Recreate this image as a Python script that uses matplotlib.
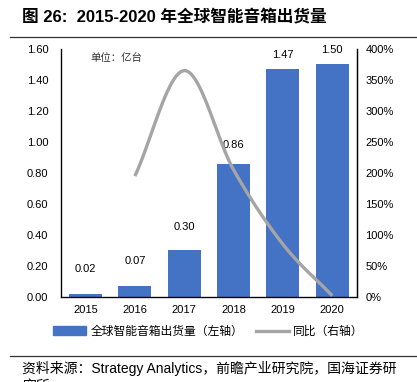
import numpy as np
import matplotlib
matplotlib.use("Agg")
import matplotlib.pyplot as plt
from matplotlib.lines import Line2D
from matplotlib.patches import Patch

plt.rcParams['font.family'] = ['Liberation Sans', 'Noto Sans CJK SC', 'DejaVu Sans']

years = ['2015', '2016', '2017', '2018', '2019', '2020']
shipments = [0.02, 0.07, 0.30, 0.86, 1.47, 1.50]   # 亿台
yoy_years = [1, 2, 3, 4, 5]                         # index into years
yoy = [195, 365, 205, 85, 2]                        # %

bar_color = '#4472C4'
line_color = '#A5A5A5'


def smooth(xs, ys, n=30):
    # Catmull-Rom pass through the points, like Excel's smoothed line
    xs = np.asarray(xs, float)
    ys = np.asarray(ys, float)
    px = np.concatenate([[2 * xs[0] - xs[1]], xs, [2 * xs[-1] - xs[-2]]])
    py = np.concatenate([[2 * ys[0] - ys[1]], ys, [2 * ys[-1] - ys[-2]]])
    ox, oy = [], []
    t = np.linspace(0, 1, n)
    for i in range(1, len(px) - 2):
        for p, o in ((px, ox), (py, oy)):
            p0, p1, p2, p3 = p[i - 1], p[i], p[i + 1], p[i + 2]
            o.extend(0.5 * (2 * p1 + (-p0 + p2) * t
                            + (2 * p0 - 5 * p1 + 4 * p2 - p3) * t ** 2
                            + (-p0 + 3 * p1 - 3 * p2 + p3) * t ** 3))
    return np.array(ox), np.array(oy)


fig = plt.figure(figsize=(4.17, 3.82), dpi=100)
ax = fig.add_axes([0.146, 0.2225, 0.71, 0.6495])
x = np.arange(len(years))
ax.bar(x, shipments, width=0.67, color=bar_color, zorder=2)
for xi, v in zip(x, shipments):
    off = 0.06 + 0.07 * (1 - v / 1.5)
    ax.text(xi, v + off, f'{v:.2f}', ha='center', va='bottom', fontsize=8)

ax.set_xlim(-0.5, 5.5)
ax.set_ylim(0, 1.6)
ax.set_yticks(np.arange(0, 1.61, 0.2))
ax.set_yticklabels([f'{v:.2f}' for v in np.arange(0, 1.61, 0.2)], fontsize=8)
ax.set_xticks(x)
ax.set_xticklabels(years, fontsize=8)
ax.tick_params(length=0, pad=6)
ax.tick_params(axis='y', pad=9)
ax.spines['top'].set_visible(False)
for s in ['left', 'right', 'bottom']:
    ax.spines[s].set_linewidth(0.9)

ax2 = ax.twinx()
sx, sy = smooth(yoy_years, yoy)
ax2.plot(sx, sy, color=line_color, lw=2.4, solid_capstyle='butt', zorder=3)
ax2.set_ylim(0, 400)
ax2.set_yticks(np.arange(0, 401, 50))
ax2.set_yticklabels([f'{v}%' for v in range(0, 401, 50)], fontsize=8)
ax2.tick_params(length=0, pad=6)
ax2.spines['top'].set_visible(False)
ax2.spines['right'].set_linewidth(0.9)
ax2.set_xlim(-0.5, 5.5)

ax.text(0.1, 0.985, '单位：亿台', transform=ax.transAxes, fontsize=7.5,
        family=['Noto Sans CJK SC'], va='top', color='#333333')

fig.text(0.053, 0.958, '图 26:  2015-2020 年全球智能音箱出货量', fontsize=12,
         fontweight='bold', va='center', family=['Liberation Sans', 'Noto Sans CJK SC'])
fig.add_artist(Line2D([0.025, 1.0], [0.903, 0.903], color='#333333', lw=0.9))

handles = [Patch(color=bar_color), Line2D([0], [0], color=line_color, lw=2.4)]
labels = ['全球智能音箱出货量（左轴）', '同比（右轴）']
fig.legend(handles, labels, loc='center', bbox_to_anchor=(0.5, 0.133), ncol=2,
           frameon=False, handlelength=2.8, handleheight=0.7,
           columnspacing=1.0, handletextpad=0.4,
           prop={'family': ['Noto Sans CJK SC'], 'size': 8.5})

fig.add_artist(Line2D([0.025, 1.0], [0.068, 0.068], color='#333333', lw=0.9))
fig.text(0.053, 0.056, '资料来源：Strategy Analytics，前瞻产业研究院，国海证券研\n究所',
         fontsize=10, va='top', linespacing=1.25,
         family=['Liberation Sans', 'Noto Sans CJK SC'])

fig.savefig('out.png', dpi=100)
